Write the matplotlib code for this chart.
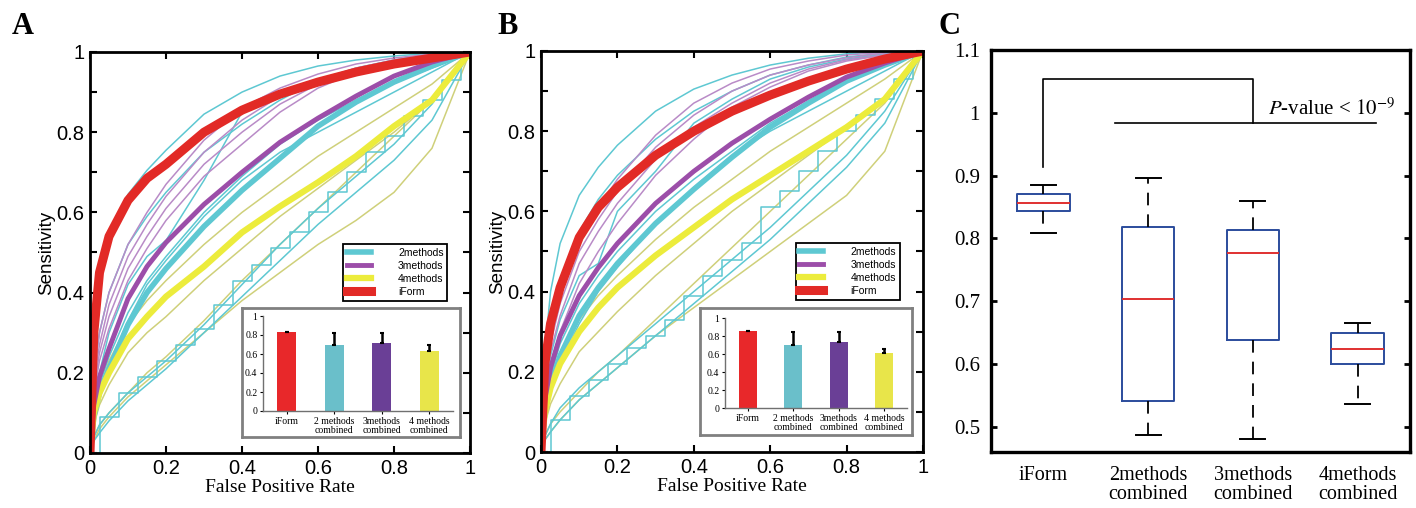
import matplotlib.pyplot as plt

plt.rcParams['mathtext.fontset'] = 'stix'

# common false positive rate grid for the ROC curves
fpr = [0, 0.01, 0.025, 0.05, 0.1, 0.15, 0.2, 0.3, 0.4, 0.5, 0.6, 0.7, 0.8, 0.9, 1.0]
fpr_fine = [0, 0.05, 0.1, 0.15, 0.2, 0.25, 0.3, 0.35, 0.4, 0.45, 0.5,
            0.55, 0.6, 0.65, 0.7, 0.75, 0.8, 0.85, 0.9, 0.95, 1.0]

# ---- panel A ----
a_iform = [0, 0.3, 0.45, 0.54, 0.63, 0.685, 0.72, 0.8, 0.855, 0.895, 0.925, 0.95, 0.97, 0.985, 1]
a_purple = [0, 0.12, 0.19, 0.26, 0.385, 0.465, 0.525, 0.62, 0.7, 0.775, 0.835, 0.89, 0.94, 0.975, 1]
a_cyan = [0, 0.09, 0.15, 0.21, 0.32, 0.4, 0.46, 0.565, 0.655, 0.735, 0.815, 0.875, 0.925, 0.965, 1]
a_yellow = [0, 0.1, 0.15, 0.2, 0.285, 0.34, 0.39, 0.465, 0.55, 0.615, 0.675, 0.74, 0.815, 0.88, 1]
a_cyan_thin = [
    [0, 0.25, 0.42, 0.55, 0.645, 0.705, 0.755, 0.845, 0.9, 0.94, 0.965, 0.98, 0.99, 0.997, 1],
    [0, 0.12, 0.2, 0.3, 0.42, 0.49, 0.53, 0.68, 0.85, 0.9, 0.93, 0.955, 0.975, 0.99, 1],
    [0, 0.2, 0.3, 0.4, 0.52, 0.59, 0.65, 0.75, 0.82, 0.88, 0.93, 0.96, 0.98, 0.995, 1],
    [0, 0.1, 0.17, 0.24, 0.35, 0.43, 0.49, 0.6, 0.69, 0.77, 0.83, 0.88, 0.925, 0.96, 1],
    [0, 0.1, 0.16, 0.22, 0.33, 0.42, 0.48, 0.59, 0.68, 0.75, 0.8, 0.85, 0.9, 0.95, 1],
    [0, 0.04, 0.07, 0.1, 0.15, 0.19, 0.23, 0.32, 0.42, 0.52, 0.61, 0.69, 0.77, 0.87, 1],
    [0, 0.03, 0.05, 0.08, 0.13, 0.17, 0.21, 0.3, 0.39, 0.48, 0.57, 0.65, 0.73, 0.83, 1],
]
a_cyan_stairs = [0, 0.09, 0.15, 0.19, 0.23, 0.27, 0.31, 0.37, 0.43, 0.47, 0.51,
                 0.55, 0.6, 0.65, 0.7, 0.75, 0.79, 0.84, 0.88, 0.93, 1]
a_purple_thin = [
    [0, 0.2, 0.3, 0.4, 0.52, 0.6, 0.67, 0.78, 0.86, 0.91, 0.945, 0.97, 0.985, 0.995, 1],
    [0, 0.18, 0.27, 0.37, 0.49, 0.57, 0.64, 0.75, 0.83, 0.89, 0.93, 0.96, 0.98, 0.993, 1],
    [0, 0.16, 0.25, 0.34, 0.46, 0.54, 0.61, 0.72, 0.8, 0.87, 0.92, 0.955, 0.978, 0.99, 1],
    [0, 0.15, 0.23, 0.31, 0.43, 0.51, 0.58, 0.69, 0.77, 0.85, 0.91, 0.95, 0.975, 0.99, 1],
]
a_yellow_thin = [
    [0, 0.09, 0.16, 0.23, 0.32, 0.38, 0.43, 0.52, 0.6, 0.67, 0.74, 0.8, 0.86, 0.92, 1],
    [0, 0.07, 0.12, 0.17, 0.25, 0.3, 0.34, 0.43, 0.51, 0.59, 0.66, 0.73, 0.8, 0.88, 1],
    [0, 0.04, 0.07, 0.1, 0.15, 0.2, 0.24, 0.33, 0.43, 0.52, 0.61, 0.7, 0.79, 0.88, 1],
    [0, 0.03, 0.06, 0.09, 0.14, 0.18, 0.22, 0.3, 0.38, 0.45, 0.52, 0.58, 0.65, 0.76, 1],
]

# ---- panel B ----
b_iform = [0, 0.22, 0.32, 0.41, 0.535, 0.61, 0.66, 0.74, 0.8, 0.85, 0.89, 0.925, 0.955, 0.98, 1]
b_purple = [0, 0.13, 0.21, 0.29, 0.39, 0.46, 0.52, 0.62, 0.7, 0.77, 0.83, 0.885, 0.935, 0.97, 1]
b_cyan = [0, 0.1, 0.17, 0.24, 0.34, 0.41, 0.47, 0.57, 0.655, 0.735, 0.81, 0.87, 0.925, 0.965, 1]
b_yellow = [0, 0.1, 0.16, 0.22, 0.3, 0.36, 0.41, 0.49, 0.56, 0.63, 0.69, 0.75, 0.81, 0.88, 1]
b_cyan_thin = [
    [0, 0.25, 0.4, 0.52, 0.64, 0.71, 0.765, 0.85, 0.905, 0.94, 0.965, 0.982, 0.993, 0.998, 1],
    [0, 0.15, 0.24, 0.33, 0.44, 0.47, 0.6, 0.7, 0.82, 0.88, 0.93, 0.96, 0.98, 0.993, 1],
    [0, 0.2, 0.31, 0.42, 0.55, 0.63, 0.69, 0.78, 0.85, 0.9, 0.94, 0.965, 0.985, 0.995, 1],
    [0, 0.12, 0.19, 0.27, 0.37, 0.44, 0.5, 0.6, 0.68, 0.75, 0.82, 0.875, 0.925, 0.965, 1],
    [0, 0.09, 0.15, 0.22, 0.32, 0.4, 0.46, 0.57, 0.66, 0.74, 0.8, 0.85, 0.9, 0.95, 1],
    [0, 0.04, 0.07, 0.11, 0.16, 0.2, 0.24, 0.32, 0.4, 0.48, 0.56, 0.65, 0.74, 0.85, 1],
    [0, 0.03, 0.05, 0.08, 0.13, 0.17, 0.21, 0.29, 0.37, 0.45, 0.53, 0.62, 0.71, 0.82, 1],
]
b_cyan_stairs = [0, 0.08, 0.14, 0.18, 0.22, 0.26, 0.29, 0.33, 0.39, 0.44, 0.48,
                 0.52, 0.61, 0.65, 0.7, 0.75, 0.8, 0.84, 0.88, 0.93, 1]
b_purple_thin = [
    [0, 0.2, 0.3, 0.4, 0.53, 0.61, 0.68, 0.79, 0.87, 0.92, 0.955, 0.975, 0.99, 0.997, 1],
    [0, 0.18, 0.27, 0.37, 0.5, 0.58, 0.65, 0.76, 0.84, 0.9, 0.94, 0.965, 0.983, 0.995, 1],
    [0, 0.16, 0.25, 0.34, 0.47, 0.55, 0.62, 0.73, 0.81, 0.87, 0.92, 0.955, 0.978, 0.99, 1],
    [0, 0.14, 0.22, 0.3, 0.42, 0.5, 0.57, 0.69, 0.78, 0.86, 0.91, 0.95, 0.975, 0.99, 1],
]
b_yellow_thin = [
    [0, 0.09, 0.16, 0.23, 0.33, 0.39, 0.44, 0.53, 0.61, 0.68, 0.75, 0.81, 0.87, 0.93, 1],
    [0, 0.07, 0.12, 0.17, 0.25, 0.3, 0.35, 0.44, 0.52, 0.6, 0.67, 0.74, 0.81, 0.88, 1],
    [0, 0.04, 0.07, 0.1, 0.15, 0.2, 0.24, 0.33, 0.42, 0.51, 0.6, 0.69, 0.78, 0.87, 1],
    [0, 0.03, 0.05, 0.08, 0.13, 0.17, 0.21, 0.29, 0.36, 0.43, 0.5, 0.57, 0.64, 0.75, 1],
]

# inset bar charts (mean AUC, upper error)
bar_labels = ['iForm', '2 methods\ncombined', '3methods\ncombined', '4 methods\ncombined']
a_bar = [0.83, 0.70, 0.72, 0.63]
a_bar_err = [0, 0.12, 0.10, 0.06]
b_bar = [0.86, 0.70, 0.73, 0.61]
b_bar_err = [0, 0.14, 0.11, 0.05]

# panel C boxplot statistics
box_labels = ['iForm', '2methods\ncombined', '3methods\ncombined', '4methods\ncombined']
box_low = [0.808, 0.487, 0.480, 0.537]
box_q1 = [0.843, 0.541, 0.638, 0.600]
box_med = [0.856, 0.704, 0.777, 0.624]
box_q3 = [0.871, 0.818, 0.814, 0.650]
box_high = [0.885, 0.897, 0.859, 0.665]

CYAN = '#5ec8d2'
PURPLE = '#9c4ea9'
PURPLE_THIN = '#b98bc7'
YELLOW = '#ecec3c'
YELLOW_THIN = '#cfd07a'
RED = '#e22a26'
bar_colors = ['#e8282a', '#6abfca', '#6a3f96', '#e8e54a']

SANS = 'Liberation Sans'
SERIF = 'Liberation Serif'

fig = plt.figure(figsize=(14.16, 5.08), dpi=100)
W, H = 1416, 508


def px_axes(x0, y0, x1, y1):
    return fig.add_axes([x0 / W, 1 - y1 / H, (x1 - x0) / W, (y1 - y0) / H])


def roc_panel(ax, iform, purple, cyan, yellow, cyan_thin, stairs, purple_thin, yellow_thin):
    for t in yellow_thin:
        ax.plot(fpr, t, color=YELLOW_THIN, lw=1.1)
    for t in cyan_thin:
        ax.plot(fpr, t, color=CYAN, lw=1.1)
    ax.plot(fpr_fine, stairs, color=CYAN, lw=1.1, drawstyle='steps-mid')
    for t in purple_thin:
        ax.plot(fpr, t, color=PURPLE_THIN, lw=1.1)
    h_c, = ax.plot(fpr, cyan, color=CYAN, lw=4, solid_joinstyle='round')
    h_y, = ax.plot(fpr, yellow, color=YELLOW, lw=4.5, solid_joinstyle='round')
    h_p, = ax.plot(fpr, purple, color=PURPLE, lw=3.5, solid_joinstyle='round')
    h_r, = ax.plot(fpr, iform, color=RED, lw=6.5, solid_joinstyle='round')
    ax.set_xlim(0, 1)
    ax.set_ylim(0, 1)
    ax.set_xticks([0, 0.2, 0.4, 0.6, 0.8, 1])
    ax.set_xticklabels(['0', '0.2', '0.4', '0.6', '0.8', '1'], family=SANS, fontsize=14.5)
    yt = [i / 10 for i in range(11)]
    ax.set_yticks(yt)
    ax.set_yticklabels(['0', '', '0.2', '', '0.4', '', '0.6', '', '0.8', '', '1'],
                       family=SANS, fontsize=14.5)
    ax.tick_params(direction='in', top=True, right=True, length=5, width=1.5, pad=4)
    for s in ax.spines.values():
        s.set_linewidth(2)
    ax.set_xlabel('False Positive Rate', family=SERIF, fontsize=14, labelpad=1)
    ax.set_ylabel('Sensitivity', family=SANS, fontsize=13.5, labelpad=1)
    leg = ax.legend([h_c, h_p, h_y, h_r], ['2methods', '3methods', '4methods', 'iForm'],
                    loc='upper left', bbox_to_anchor=(0.653, 0.534),
                    handlelength=2.3, handletextpad=2.6, borderpad=0.35, labelspacing=0.3,
                    fancybox=False, framealpha=1, edgecolor='black', prop={'family': SANS, 'size': 7.5})
    leg.get_frame().set_linewidth(1.3)


def bar_inset(frame_box, inner_box, vals, errs):
    fr = px_axes(*frame_box)
    fr.set_xticks([])
    fr.set_yticks([])
    for s in fr.spines.values():
        s.set_color('#808080')
        s.set_linewidth(2)
    ib = px_axes(*inner_box)
    pos = range(len(vals))
    ib.bar(pos, vals, width=0.4, color=bar_colors)
    ib.errorbar(pos, vals, yerr=[[0] * len(errs), errs], fmt='none', ecolor='black',
                elinewidth=1.8, capsize=1.5, capthick=1.5)
    ib.set_xlim(-0.5, 3.5)
    ib.set_ylim(0, 1)
    ib.set_yticks([0, 0.2, 0.4, 0.6, 0.8, 1])
    ib.set_yticklabels(['0', '0.2', '0.4', '0.6', '0.8', '1'], family=SERIF, fontsize=7)
    ib.set_xticks(list(pos))
    ib.set_xticklabels(bar_labels, family=SERIF, fontsize=7, linespacing=1.05)
    ib.tick_params(axis='y', length=2, width=0.8, pad=2)
    ib.tick_params(axis='x', length=2, width=0.8, pad=2)
    for s in ['top', 'right']:
        ib.spines[s].set_visible(False)
    for s in ['left', 'bottom']:
        ib.spines[s].set_color('#707070')
        ib.spines[s].set_linewidth(1)


# Panel A
ax_a = px_axes(90, 52, 470, 453)
roc_panel(ax_a, a_iform, a_purple, a_cyan, a_yellow, a_cyan_thin, a_cyan_stairs,
          a_purple_thin, a_yellow_thin)
bar_inset((242, 308, 460, 437), (263, 316, 453, 411), a_bar, a_bar_err)

# Panel B
ax_b = px_axes(541, 51, 923, 452)
roc_panel(ax_b, b_iform, b_purple, b_cyan, b_yellow, b_cyan_thin, b_cyan_stairs,
          b_purple_thin, b_yellow_thin)
bar_inset((700, 308, 912, 435), (725, 318, 907, 408), b_bar, b_bar_err)

# Panel C
ax_c = px_axes(991, 50, 1410, 452)
stats = []
for i in range(len(box_labels)):
    stats.append(dict(label=box_labels[i], whislo=box_low[i], q1=box_q1[i], med=box_med[i],
                      q3=box_q3[i], whishi=box_high[i]))
ax_c.bxp(stats, positions=[1, 2, 3, 4], widths=0.5, capwidths=0.24, showfliers=False,
         boxprops=dict(color='#2b4c9c', lw=1.4),
         medianprops=dict(color='#e03030', lw=1.4),
         whiskerprops=dict(color='black', lw=1.3, linestyle=(0, (7, 5))),
         capprops=dict(color='black', lw=1.4))
# significance bracket
ax_c.plot([1, 1, 3, 3], [0.914, 1.054, 1.054, 0.983], color='black', lw=1.2)
ax_c.plot([1.68, 4.18], [0.983, 0.983], color='black', lw=1.2)
ax_c.text(3.14, 0.997, r'$P$-value < $10^{-9}$', family=SERIF, fontsize=15, va='baseline')
ax_c.set_xlim(0.5, 4.5)
ax_c.set_ylim(0.46, 1.1)
ax_c.set_yticks([0.5, 0.6, 0.7, 0.8, 0.9, 1.0, 1.1])
ax_c.set_yticklabels(['0.5', '0.6', '0.7', '0.8', '0.9', '1', '1.1'], family=SERIF, fontsize=15)
ax_c.set_xticklabels(box_labels, family=SERIF, fontsize=14.5, linespacing=1.0)
ax_c.tick_params(axis='y', direction='in', right=True, length=4, width=2, pad=8)
ax_c.tick_params(axis='x', length=0, pad=10)
for s in ax_c.spines.values():
    s.set_linewidth(2.4)

# panel letters
for x, lab in [(23, 'A'), (508, 'B'), (950, 'C')]:
    fig.text(x / W, 1 - 26 / H, lab, family=SERIF, fontweight='bold', fontsize=22,
             ha='center', va='center')

fig.savefig('out.png', dpi=100)
